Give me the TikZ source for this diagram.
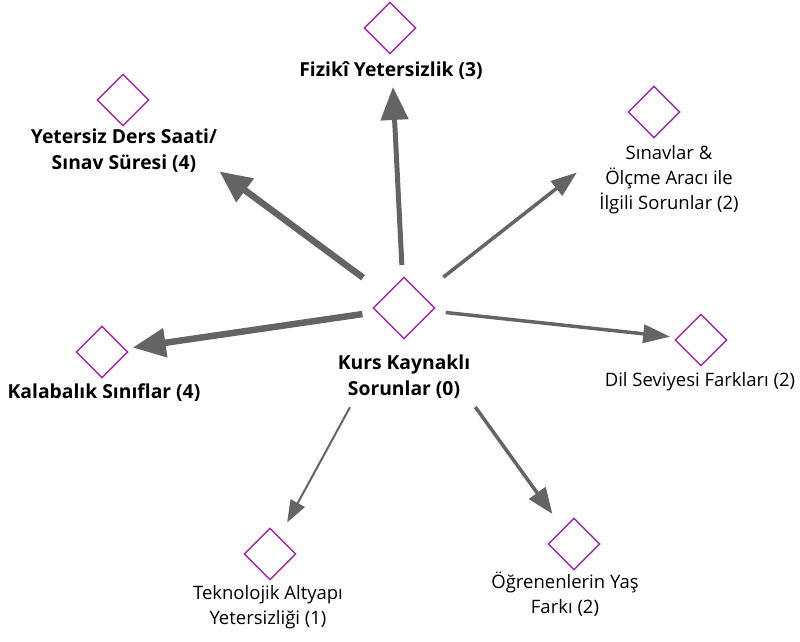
\documentclass[tikz,border=0pt]{standalone}
\usepackage{fontspec}
\setmainfont{Open Sans}
\usetikzlibrary{shapes.geometric,arrows.meta}
\definecolor{kodmor}{RGB}{160,40,160}
\definecolor{okgri}{RGB}{100,100,100}

\begin{document}
\begin{tikzpicture}[x=1pt,y=-1pt]
\tikzset{kod/.style = {shape = diamond, draw = kodmor, line width = 1.4pt, minimum size = 52pt, inner sep = 0pt},
etiket/.style = {align = center, inner sep = 0pt, font = \fontsize{18.5}{25}\selectfont},
kalin/.style = {etiket, font = \fontsize{19.3}{26}\selectfont\bfseries},
ok/.style = {draw = okgri, fill = okgri, line width = #1}}
\useasboundingbox (0,0) rectangle (800,641);
% kodlar
\node[kod, minimum size = 62pt] (kurs) at (404,308) {};
\node[kod] (fiz) at (390,28) {}; \node[kod] (ders) at (123,100) {}; \node[kod] (sinav) at (654,112) {};
\node[kod] (kalab) at (102,352) {}; \node[kod] (dil) at (701,340) {};
\node[kod] (tekno) at (270,554) {}; \node[kod] (yas) at (574,544) {};
% etiketler
\node[kalin] (l-kurs) at (404,377) {Kurs Kaynaklı\\Sorunlar (0)};
\node[kalin] (l-fiz) at (391,71) {Fizikî Yetersizlik (3)};
\node[kalin] (l-ders) at (124,151) {Yetersiz Ders Saati/\\Sınav Süresi (4)};
\node[etiket] (l-sinav) at (669,180) {Sınavlar \&\\Ölçme Aracı ile\\İlgili Sorunlar (2)};
\node[kalin] (l-kalab) at (104,393) {Kalabalık Sınıflar (4)};
\node[etiket] (l-dil) at (700,382) {Dil Seviyesi Farkları (2)};
\node[etiket] (l-tekno) at (268,607) {Teknolojik Altyapı\\Yetersizliği (1)};
\node[etiket] (l-yas) at (565,594) {Öğrenenlerin Yaş\\Farkı (2)};
% oklar
\draw[ok = 5pt, -{Triangle[length = 33pt, width = 27pt]}, shorten <= 43pt, shorten >= 59pt] (kurs.center) -- (fiz.center);
\draw[ok = 6.5pt, -{Triangle[length = 32pt, width = 28pt]}, shorten <= 51pt, shorten >= 120pt] (kurs.center) -- (ders.center);
\draw[ok = 3.5pt, -{Triangle[length = 26pt, width = 18pt]}, shorten <= 50pt, shorten >= 98pt] (kurs.center) -- (sinav.center);
\draw[ok = 6.5pt, -{Triangle[length = 33pt, width = 28pt]}, shorten <= 42pt, shorten >= 31pt] (kurs.center) -- (kalab.center);
\draw[ok = 3.5pt, -{Triangle[length = 27pt, width = 18pt]}, shorten <= 42pt, shorten >= 31pt] (kurs.center) -- (dil.center);
\draw[ok = 2pt, -{Triangle[length = 22pt, width = 16pt]}, shorten <= 113pt, shorten >= 36pt] (kurs.center) -- (tekno.center);
\draw[ok = 3.5pt, -{Triangle[length = 26pt, width = 20pt]}, shorten <= 122pt, shorten >= 37pt] (kurs.center) -- (yas.center);
\end{tikzpicture}
\end{document}
